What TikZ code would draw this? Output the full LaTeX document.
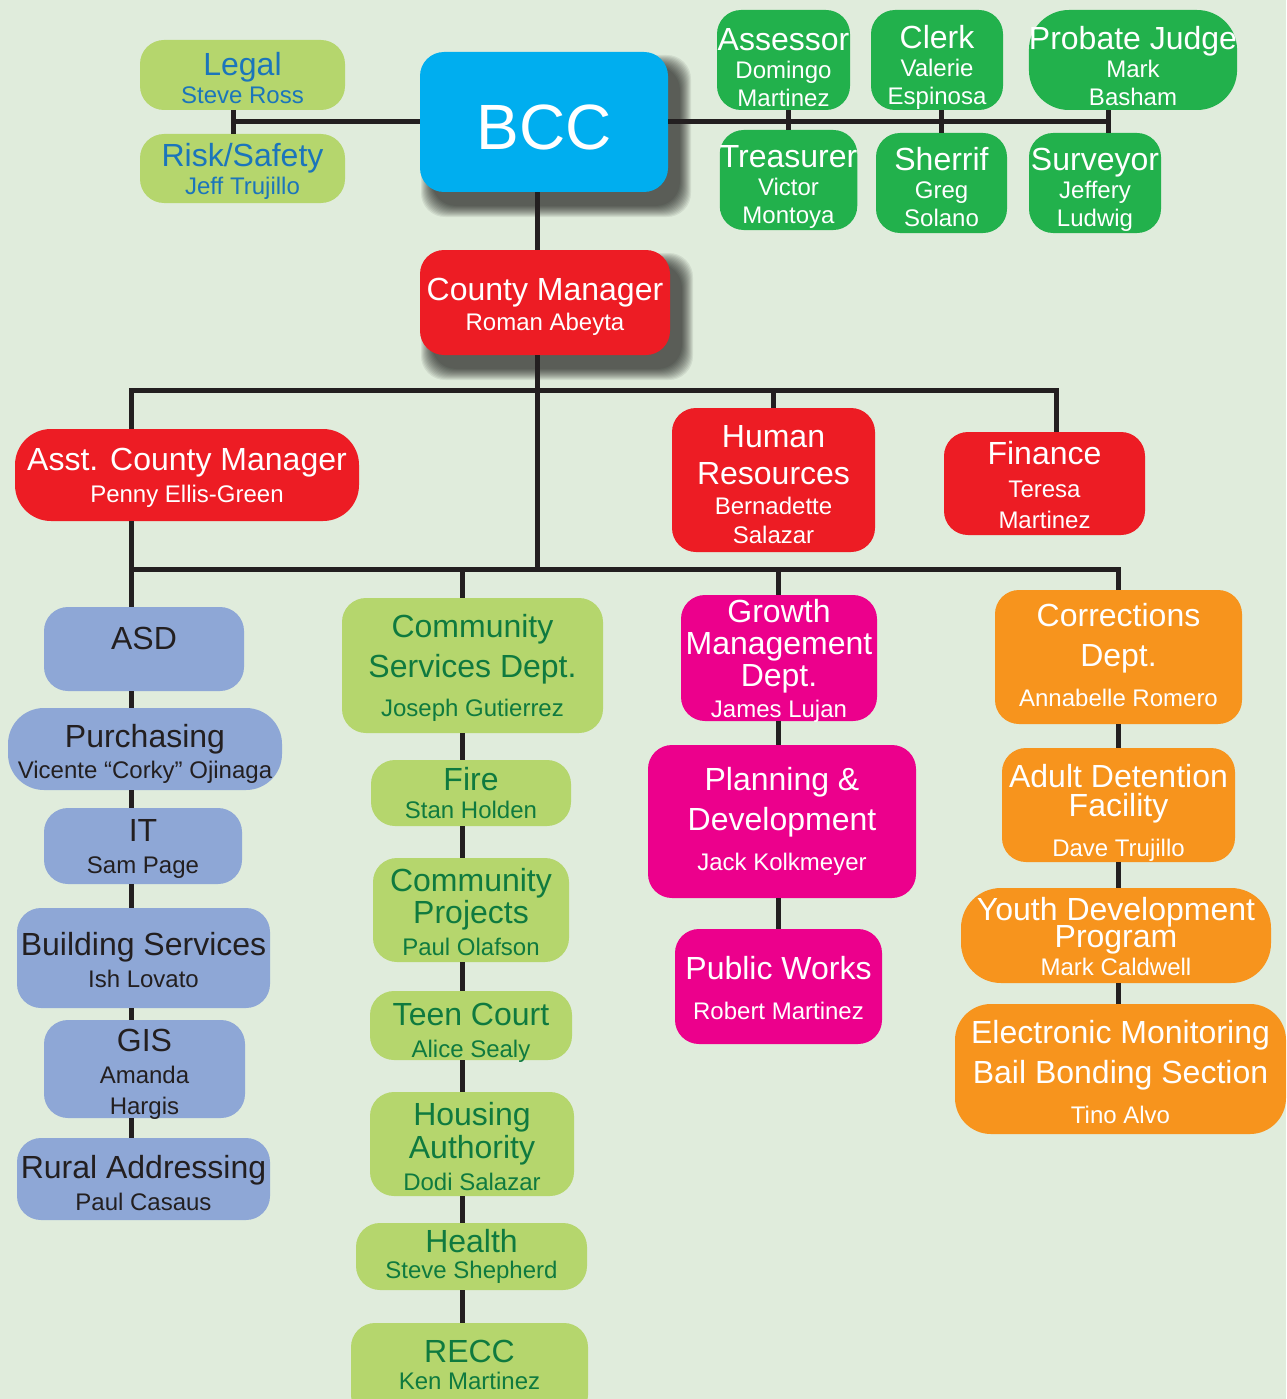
\documentclass[tikz,border=0pt]{standalone}
\usepackage{fontspec}
\setmainfont{Liberation Sans}
\definecolor{bgcol}{HTML}{E0ECDC}
\definecolor{linecol}{HTML}{231F20}
\definecolor{bcccyan}{HTML}{00AEEF}
\definecolor{electgreen}{HTML}{22B14C}
\definecolor{limegreen}{HTML}{B5D66D}
\definecolor{bluetext}{HTML}{1B75BB}
\definecolor{deepgreen}{HTML}{0F7A3F}
\definecolor{mgrred}{HTML}{ED1C24}
\definecolor{pinkmag}{HTML}{EC008C}
\definecolor{orng}{HTML}{F7941D}
\definecolor{periw}{HTML}{8EA7D6}
\newcommand{\ttl}[1]{{\fontsize{32}{30}\selectfont #1}}
\newcommand{\nm}[1]{{\fontsize{24}{30}\selectfont #1}}
\newcommand{\dn}[1]{\rule{0pt}{#1pt}}
\begin{document}
\begin{tikzpicture}[x=1pt,y=-1pt,wh/.style 2 args={minimum width=#1pt,minimum height=#2pt}]
  \tikzstyle{box}=[rounded corners=24pt,inner sep=0pt,align=center,text depth=0pt,font=\fontsize{24}{30}\selectfont]
  \tikzstyle{shade}=[black,opacity=0.07,rounded corners=24pt]
  \tikzstyle{office}=[box,fill=electgreen,text=white]
  \tikzstyle{staff}=[box,fill=limegreen,text=bluetext]
  \tikzstyle{boss}=[box,fill=bcccyan,text=white]
  \tikzstyle{exec}=[box,fill=mgrred,text=white]
  \tikzstyle{admin}=[box,fill=periw,text=linecol]
  \tikzstyle{commsvc}=[box,fill=limegreen,text=deepgreen]
  \tikzstyle{growth}=[box,fill=pinkmag,text=white]
  \tikzstyle{correct}=[box,fill=orng,text=white]
  \tikzstyle{edge}=[draw,line width=5pt,color=linecol]

  \useasboundingbox (0,0) rectangle (1286,1399);
  \fill[bgcol] (0,0) rectangle (1286,1399);

  % soft shadows behind BCC and County Manager
  \foreach \k in {0,...,11} {
    \fill[shade] (432-\k,66-\k) rectangle (680+\k,206+\k);
    \fill[shade] (432-\k,264-\k) rectangle (682+\k,369+\k);
  }

  % board and elected offices
  \node[staff,wh={205}{70}] (legal) at (242.5,75) {\ttl{\dn{29}Legal}\\[-2pt]\nm{Steve Ross}};
  \node[staff,wh={205}{69}] (risk) at (242.5,168.5) {\ttl{Risk/Safety}\\[-2pt]\nm{Jeff Trujillo}};
  \node[boss,wh={248}{140}] (bcc) at (544,122) {\fontsize{64}{70}\selectfont\dn{56}BCC};
  \node[office,wh={133}{100}] (assessor) at (783.5,60) {\ttl{\dn{37}Assessor}\\[-2pt]\nm{Domingo}\\[-2pt]\nm{Martinez}};
  \node[office,wh={133}{100}] (treasurer) at (788.5,180) {\ttl{\dn{31}Treasurer}\\[-2pt]\nm{Victor}\\[-2pt]\nm{Montoya}};
  \node[office,wh={132}{100}] (clerk) at (937,60) {\ttl{\dn{33}Clerk}\\[-2pt]\nm{Valerie}\\[-2pt]\nm{Espinosa}};
  \node[office,wh={131}{100}] (sherrif) at (941.5,183) {\ttl{\dn{31}Sherrif}\\[-2pt]\nm{Greg}\\[-2pt]\nm{Solano}};
  \node[office,wh={208}{100},rounded corners=40pt] (probate) at (1133,60) {\ttl{\dn{35}Probate Judge}\\[-2pt]\nm{Mark}\\[-2pt]\nm{Basham}};
  \node[office,wh={132}{100}] (surveyor) at (1095,183) {\ttl{\dn{31}Surveyor}\\[-2pt]\nm{Jeffery}\\[-2pt]\nm{Ludwig}};

  % managers
  \node[exec,wh={250}{105}] (cm) at (545,302.5) {\ttl{\dn{26}County Manager}\\\nm{Roman Abeyta}};
  \node[exec,wh={344}{92},rounded corners=36pt] (acm) at (187,475) {\ttl{Asst. County Manager}\\[2pt]\nm{Penny Ellis-Green}};
  \node[exec,wh={203}{144}] (hr) at (773.5,480) {\ttl{\dn{31}Human}\\[7pt]\ttl{Resources}\\\nm{Bernadette}\\[-1pt]\nm{Salazar}};
  \node[exec,wh={201}{103}] (fin) at (1044.5,483.5) {\ttl{\dn{26}Finance}\\[3pt]\nm{Teresa}\\[1pt]\nm{Martinez}};

  % administrative services
  \node[admin,wh={200}{84}] (asd) at (144,649) {\raisebox{0pt}[0pt][0pt]{\ttl{ASD}}};
  \node[admin,wh={274}{82},rounded corners=36pt] (pur) at (145,749) {\ttl{\dn{27}Purchasing}\\[1pt]\nm{Vicente “Corky” Ojinaga}};
  \node[admin,wh={198}{76}] (it) at (143,846) {\ttl{IT}\\[2pt]\nm{Sam Page}};
  \node[admin,wh={253}{100}] (bldg) at (143.5,958) {\ttl{\dn{26}Building Services}\\[2pt]\nm{Ish Lovato}};
  \node[admin,wh={201}{98}] (gis) at (144.5,1069) {\ttl{\dn{27}GIS}\\[2pt]\nm{Amanda}\\[1pt]\nm{Hargis}};
  \node[admin,wh={253}{82}] (rural) at (143.5,1179) {\ttl{\dn{31}Rural Addressing}\\[2pt]\nm{Paul Casaus}};

  % community services
  \node[commsvc,wh={261}{135}] (csd) at (472.5,665.5) {\ttl{Community}\\[10pt]\ttl{Services Dept.}\\[9pt]\nm{Joseph Gutierrez}};
  \node[commsvc,wh={200}{66}] (fire) at (471,793) {\ttl{Fire}\\[-2pt]\nm{Stan Holden}};
  \node[commsvc,wh={196}{104}] (cproj) at (471,910) {\ttl{\dn{27}Community}\\[2pt]\ttl{Projects}\\[2pt]\nm{Paul Olafson}};
  \node[commsvc,wh={202}{69}] (teen) at (471,1025.5) {\ttl{\dn{31}Teen Court}\\[2pt]\nm{Alice Sealy}};
  \node[commsvc,wh={204}{104}] (housing) at (472,1144) {\ttl{\dn{27}Housing}\\[3pt]\ttl{Authority}\\[2pt]\nm{Dodi Salazar}};
  \node[commsvc,wh={231}{67},text depth=6pt] (health) at (471.5,1256.5) {\ttl{Health}\\[-4pt]\nm{Steve Shepherd}};
  \node[commsvc,wh={237}{96},text depth=12pt] (recc) at (469.5,1371) {\ttl{RECC}\\[-3pt]\nm{Ken Martinez}};

  % growth management
  \node[growth,wh={196}{126}] (gmd) at (779,658) {\ttl{Growth}\\[2pt]\ttl{Management}\\[2pt]\ttl{Dept.}\\[1pt]\nm{James Lujan}};
  \node[growth,wh={268}{153},text depth=5pt] (plan) at (782,821.5) {\ttl{Planning \&}\\[10pt]\ttl{Development}\\[10pt]\nm{Jack Kolkmeyer}};
  \node[growth,wh={207}{115}] (pworks) at (778.5,986.5) {\ttl{\dn{25}Public Works}\\[10pt]\nm{Robert Martinez}};

  % corrections
  \node[correct,wh={247}{134},text depth=4pt] (corr) at (1118.5,657) {\ttl{Corrections}\\[10pt]\ttl{Dept.}\\[10pt]\nm{Annabelle Romero}};
  \node[correct,wh={233}{114}] (adult) at (1118.5,805) {\ttl{\dn{33}Adult Detention}\\[-1pt]\ttl{Facility}\\[10pt]\nm{Dave Trujillo}};
  \node[correct,wh={310}{95},rounded corners=40pt] (youth) at (1116,935.5) {\ttl{\dn{25}Youth Development}\\[-3pt]\ttl{Program}\\[-2pt]\nm{Mark Caldwell}};
  \node[correct,wh={331}{130},rounded corners=36pt] (emon) at (1120.5,1069) {\ttl{\dn{29}Electronic Monitoring}\\[10pt]\ttl{Bail Bonding Section}\\[10pt]\nm{Tino Alvo}};

  % junctions
  \coordinate (lstaff) at (233,122);
  \coordinate (rstaff) at (1108,122);
  \coordinate (stem) at (537,390);
  \coordinate (bar1w) at (131,390);
  \coordinate (bar1e) at (1056,390);
  \coordinate (bar2w) at (131,569);
  \coordinate (bar2e) at (1118,569);
  \coordinate (c2) at (462,569);
  \coordinate (c3) at (778,569);

  \path[edge] (lstaff |- legal.south) -- (lstaff |- risk.north);
  \path[edge] (lstaff) -- (bcc.west);
  \path[edge] (bcc.east) -- (rstaff);
  \path[edge] (treasurer.north |- assessor.south) -- (treasurer.north);
  \path[edge] (sherrif.north |- clerk.south) -- (sherrif.north);
  \path[edge] (rstaff |- probate.south) -- (rstaff |- surveyor.north);
  \path[edge] (stem |- bcc.south) -- (stem |- cm.north);
  \path[edge] (stem |- cm.south) -- (stem |- bar2w);
  \path[edge] (bar1w |- acm.north) -- (bar1w) -- (bar1e) -- (bar1e |- fin.north);
  \path[edge] (hr.north |- bar1w) -- (hr.north);
  \path[edge] (bar2w |- acm.south) -- (bar2w |- asd.north);
  \path[edge] (bar2w) -- (bar2e) -- (bar2e |- corr.north);
  \path[edge] (c2) -- (c2 |- csd.north);
  \path[edge] (c3) -- (c3 |- gmd.north);
  \foreach \a/\b in {asd/pur,pur/it,it/bldg,bldg/gis,gis/rural}
    \path[edge] (bar2w |- \a.south) -- (bar2w |- \b.north);
  \foreach \a/\b in {csd/fire,fire/cproj,cproj/teen,teen/housing,housing/health,health/recc}
    \path[edge] (c2 |- \a.south) -- (c2 |- \b.north);
  \foreach \a/\b in {gmd/plan,plan/pworks}
    \path[edge] (c3 |- \a.south) -- (c3 |- \b.north);
  \foreach \a/\b in {corr/adult,adult/youth,youth/emon}
    \path[edge] (bar2e |- \a.south) -- (bar2e |- \b.north);
\end{tikzpicture}
\end{document}
